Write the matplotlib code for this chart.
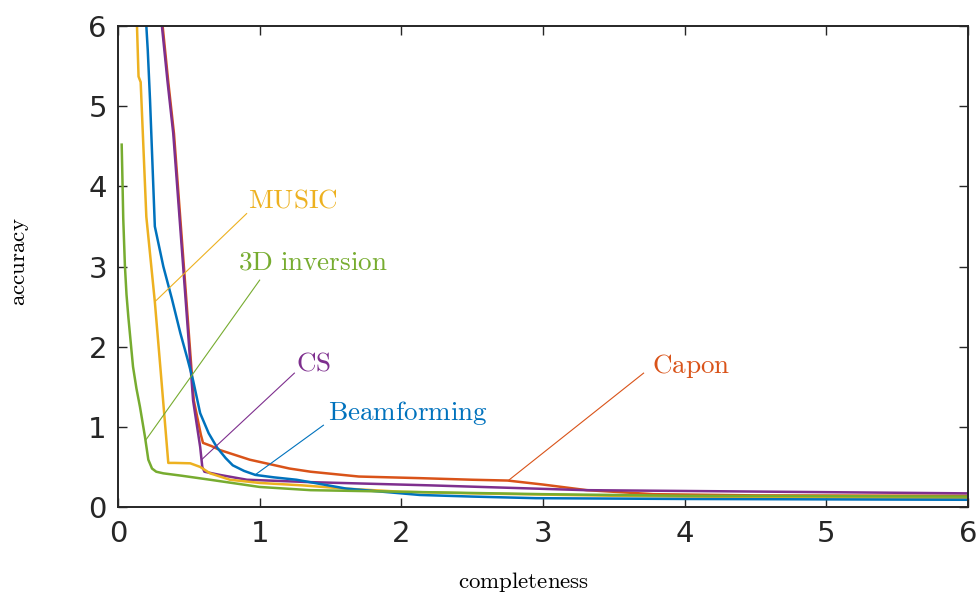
import matplotlib
matplotlib.use('Agg')
import matplotlib.pyplot as plt

plt.rcParams['mathtext.fontset'] = 'cm'
plt.rcParams['font.family'] = ['DejaVu Sans']

# curve colours (MATLAB default order)
c_capon = '#D95319'
c_music = '#EDB120'
c_beam = '#0072BD'
c_cs = '#7E2F8E'
c_inv = '#77AC30'

# MUSIC
music_x = [0.134, 0.145, 0.16, 0.2, 0.26, 0.30, 0.355, 0.4, 0.51, 0.58, 0.65, 0.79,
           1.0, 1.3, 1.6, 2.0, 2.5, 3.0, 3.5, 4.0, 5.0, 6.0]
music_y = [6.0, 5.37, 5.3, 3.62, 2.56, 1.72, 0.55, 0.55, 0.545, 0.5, 0.42, 0.34,
           0.3, 0.27, 0.23, 0.19, 0.17, 0.155, 0.14, 0.13, 0.12, 0.115]

# Beamforming
beam_x = [0.2, 0.21, 0.226, 0.26, 0.32, 0.38, 0.44, 0.49, 0.53, 0.58, 0.64, 0.70,
          0.76, 0.81, 0.89, 0.97, 1.1, 1.26, 1.61, 2.13, 2.5, 2.95, 4.0, 5.0, 6.0]
beam_y = [6.0, 5.7, 5.08, 3.5, 3.0, 2.6, 2.17, 1.85, 1.58, 1.17, 0.92, 0.74,
          0.61, 0.52, 0.45, 0.40, 0.37, 0.34, 0.23, 0.15, 0.13, 0.11, 0.1, 0.095, 0.09]

# CS
cs_x = [0.31, 0.35, 0.39, 0.46, 0.53, 0.58, 0.595, 0.61, 0.72, 0.91, 1.36, 2.2,
        3.3, 4.0, 5.0, 6.0]
cs_y = [6.0, 5.3, 4.66, 3.0, 1.33, 0.75, 0.5, 0.44, 0.40, 0.34, 0.31, 0.27,
        0.21, 0.2, 0.185, 0.17]

# Capon
capon_x = [0.315, 0.355, 0.395, 0.465, 0.535, 0.585, 0.6, 0.66, 0.72, 0.93, 1.21,
           1.36, 1.7, 2.13, 2.5, 2.75, 3.0, 3.31, 3.78, 4.5, 6.0]
capon_y = [6.0, 5.3, 4.66, 3.0, 1.33, 0.9, 0.8, 0.76, 0.71, 0.59, 0.48,
           0.44, 0.38, 0.36, 0.34, 0.33, 0.28, 0.21, 0.16, 0.145, 0.14]

# 3D inversion
inv_x = [0.026, 0.03, 0.037, 0.049, 0.06, 0.073, 0.09, 0.106, 0.13, 0.155, 0.19,
         0.214, 0.24, 0.27, 0.32, 0.45, 0.65, 1.0, 1.36, 2.0, 3.0, 4.0, 5.0, 6.0]
inv_y = [4.52, 4.2, 3.6, 3.0, 2.65, 2.37, 2.05, 1.75, 1.48, 1.25, 0.88,
         0.59, 0.48, 0.44, 0.42, 0.39, 0.34, 0.25, 0.21, 0.19, 0.16, 0.14, 0.135, 0.13]

# labels: text, colour, text anchor, line start (near text), line end (on curve)
labels = [
    ('MUSIC', c_music, (0.918, 3.74), (0.908, 3.66), (0.26, 2.56)),
    ('3D\\ inversion', c_inv, (0.85, 2.96), (1.0, 2.83), (0.198, 0.84)),
    ('CS', c_cs, (1.26, 1.70), (1.245, 1.67), (0.59, 0.59)),
    ('Beamforming', c_beam, (1.485, 1.09), (1.45, 1.02), (0.967, 0.40)),
    ('Capon', c_capon, (3.77, 1.67), (3.71, 1.67), (2.755, 0.33)),
]

fig = plt.figure(figsize=(9.79, 5.96), dpi=100)
ax = fig.add_axes([118 / 979, 89 / 596, 850 / 979, 481 / 596])

lw = 1.8
ax.plot(capon_x, capon_y, color=c_capon, lw=lw)
ax.plot(cs_x, cs_y, color=c_cs, lw=lw)
ax.plot(music_x, music_y, color=c_music, lw=lw)
ax.plot(beam_x, beam_y, color=c_beam, lw=lw)
ax.plot(inv_x, inv_y, color=c_inv, lw=lw)

for txt, col, tpos, p0, p1 in labels:
    ax.plot([p0[0], p1[0]], [p0[1], p1[1]], color=col, lw=0.8)
    ax.text(tpos[0], tpos[1], r'$\mathrm{' + txt + '}$', color=col,
            fontsize=19.5, ha='left', va='baseline')

ax.set_xlim(0, 6)
ax.set_ylim(0, 6)
ax.set_xticks(range(7))
ax.set_yticks(range(7))
ax.tick_params(direction='in', length=6.5, width=1.0, colors='#262626',
               labelsize=21, top=True, right=True, pad=8)
ax.tick_params(axis='x', pad=9)
for s in ax.spines.values():
    s.set_color('#262626')
    s.set_linewidth(1.4)

fig.text(524 / 979, 1 - 582 / 596, r'$\mathrm{completeness}$', fontsize=16.5,
         ha='center', va='center')
fig.text(20 / 979, 1 - 262 / 596, r'$\mathrm{accuracy}$', fontsize=16.5,
         ha='center', va='center', rotation=90)

fig.savefig('out.png', dpi=100)
